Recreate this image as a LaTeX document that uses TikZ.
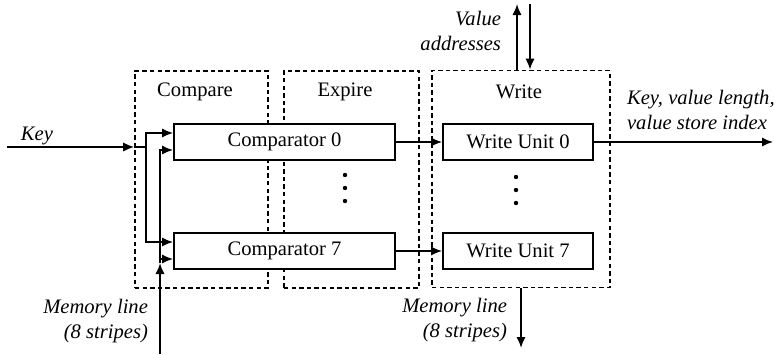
\documentclass[tikz,border=0pt]{standalone}
\usepackage{fontspec}
\setmainfont{Liberation Serif}
\usepackage{tikz}
\usetikzlibrary{positioning, arrows.meta}

\begin{document}
\begin{tikzpicture}[
    x=0.5pt, y=-0.5pt,
    font=\fontsize{10.3}{12.5}\selectfont,
    stage/.style={rectangle, draw=black, dashed, line width=0.8pt, dash pattern=on 2.2pt off 1.6pt, minimum height=108.5pt, inner sep=0pt},
    unit/.style={rectangle, draw=black, line width=0.9pt, fill=white, minimum height=18pt, inner sep=0pt},
    label/.style={font=\fontsize{10.3}{12.5}\selectfont\itshape},
    arrow/.style={-{Latex[length=5.5pt,width=4.6pt]}, line width=0.9pt},
    wire/.style={line width=0.9pt}
]
\useasboundingbox (0,0) rectangle (774,354);

% Stufen
\node[stage, minimum width=66.5pt] (compare) at (201.5,179.5) {};
\node[stage, minimum width=67.5pt] (expire) at (351.5,179.5) {};
\node[stage, minimum width=89pt] (write) at (521,179) {};

\node (comparetitle) at (195,92) {Compare};
\node (expiretitle) at (345,92) {Expire};
\node (writetitle) at (519,92) {Write};

% Einheiten
\node[unit, minimum width=110.5pt] (cmp0) at (284.5,142) {Comparator 0};
\node[unit, minimum width=110.5pt] (cmp7) at (284.5,251) {Comparator 7};
\node[unit, minimum width=75pt] (wu0) at (518,142) {Write Unit 0};
\node[unit, minimum width=75pt] (wu7) at (518,251) {Write Unit 7};

% Punkte
\foreach \y in {175,188,201} {
  \fill (345,\y) circle (1.1pt);
  \fill (516,\y+2) circle (1.1pt);
}

% Eingang Key
\coordinate (keyin) at (7,147);
\node[label] (keylabel) at (37,136) {Key};
\draw[arrow] (keyin) -- (keyin -| compare.west);
\draw[wire] (keyin -| compare.west) -- ++(12,0) coordinate (keysplit);
\draw[arrow] (keysplit) |- ([yshift=4.5pt]cmp0.west);
\draw[arrow] (keysplit) |- ([yshift=4.5pt]cmp7.west);

% Memory line (Eingang)
\coordinate (memin) at (160,354);
\coordinate (memtop) at (160,263);
\draw[arrow] (memin) -- (memtop);
\draw[arrow] (memtop) |- ([yshift=-4pt]cmp0.west);
\draw[arrow] (memtop) |- ([yshift=-4pt]cmp7.west);
\node[label, anchor=east, align=right] (memlabel) at (155,321) {Memory line\\(8 stripes)};

% Comparator -> Write Unit
\draw[arrow] (cmp0.east) -- (wu0.west);
\draw[arrow] (cmp7.east) -- (wu7.west);

% Ausgang
\coordinate (keyout) at (773,142);
\draw[arrow] (wu0.east) -- (keyout);
\node[label, anchor=west, align=left] (outlabel) at (620,110) {Key, value length,\\value store index};

% Value addresses
\coordinate (valtop) at (521,4);
\draw[arrow] ([xshift=-2pt]write.north) -- ([xshift=-2pt]valtop);
\draw[arrow] ([xshift=4.5pt]valtop) -- ([xshift=4.5pt]write.north);
\node[label, anchor=east, align=right] (vallabel) at (508,31) {Value\\addresses};

% Memory line (Ausgang)
\coordinate (memout) at (521,348);
\draw[arrow] (write.south) -- (memout);
\node[label, anchor=east, align=right] (memoutlabel) at (514,320) {Memory line\\(8 stripes)};

\end{tikzpicture}
\end{document}
